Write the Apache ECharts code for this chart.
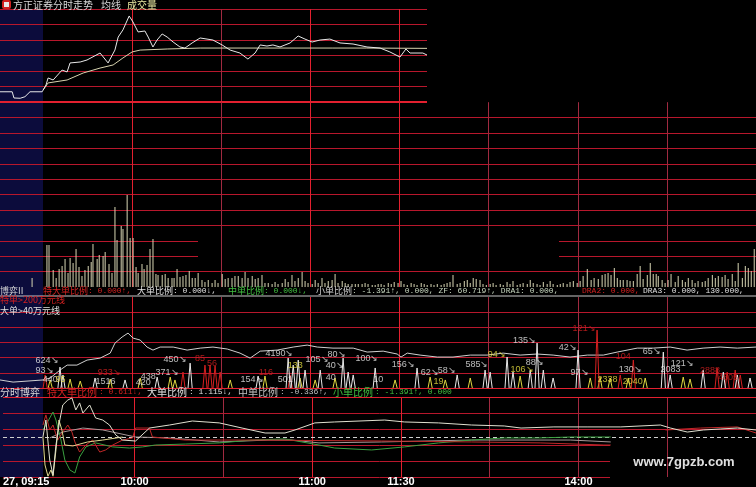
<!DOCTYPE html>
<html><head><meta charset="utf-8">
<script src="https://cdn.jsdelivr.net/npm/echarts@6/dist/echarts.min.js"></script>
<style>html,body{margin:0;padding:0;background:#000}#c{width:756px;height:487px}</style>
</head><body><div id="c"></div>
<script>
// ---- data (x = minutes after 09:30, negative = call auction) ----
const price = [[-14.5,0.66],[-10.4,0.66],[-9.8,0.26],[-7.7,0.24],[-6.1,0.34],[-4.4,0.66],[-0.3,0.66],[0,0.66],[1.0,1.10],[1.7,1.55],[3.4,1.42],[6.4,2.06],[8.1,1.94],[9.1,2.52],[12.5,2.58],[14.8,2.71],[19.2,3.16],[21.9,2.52],[24.2,3.35],[25.3,4.19],[26.9,4.65],[29.0,5.55],[30.3,5.16],[32.0,4.52],[34.3,4.58],[35.4,4.19],[37.0,3.55],[38.4,4.0],[40.1,4.39],[41.8,4.19],[43.8,3.87],[46.1,3.55],[47.8,3.48],[50.2,3.81],[52.9,4.13],[57.2,4.0],[60.3,3.68],[63.0,3.35],[66.3,3.16],[69.0,2.77],[71.4,3.16],[73.1,3.68],[75.4,3.61],[77.4,3.68],[79.8,3.55],[83.2,3.81],[85.9,4.26],[88.2,4.06],[90.6,3.87],[93.3,4.0],[96.6,4.06],[100.0,3.81],[104.4,3.74],[109.1,3.55],[113.5,3.48],[116.8,3.23],[120.2,2.90],[122.2,3.42],[123.6,3.16],[127.9,3.16],[129.3,3.03]];
const avgPrice = [[0,0.77],[1.7,1.23],[8.1,1.42],[13.5,1.87],[19.2,2.19],[23.6,2.39],[26.9,2.84],[30,3.23],[32.7,3.35],[41.8,3.42],[52.9,3.48],[75.4,3.48],[97.6,3.48],[109,3.48],[129.3,3.46]];
const volume = [[-3.7,9],[1.3,42],[2.0,42],[3.4,17],[4.4,9],[5.4,18],[6.4,21],[7.4,28],[8.4,14],[9.1,29],[10.1,24],[11.1,38],[12.1,20],[13.1,11],[14.1,17],[15.2,21],[16.2,25],[16.8,43],[18.2,28],[18.9,32],[20.2,31],[20.9,35],[22.2,23],[23.2,14],[24.2,80],[24.9,47],[26.3,61],[26.9,58],[28.3,92],[29.3,49],[30.3,49],[31.3,20],[32.0,14],[33.3,23],[34.0,18],[35.0,22],[36.0,38],[37.0,48],[38.0,13],[38.7,12],[40.1,12],[41.1,13],[42.1,9],[43.4,9],[44.1,9],[45.1,18],[46.1,10],[47.1,11],[48.1,12],[49.2,16],[50.2,9],[51.2,9],[52.2,14],[53.5,7],[54.5,5],[55.6,7],[56.9,4],[57.9,7],[58.9,4],[60.3,13],[61.3,8],[62.3,9],[63.6,9],[64.6,11],[65.7,11],[67.0,9],[68.0,15],[69.0,9],[70.4,11],[71.4,8],[72.4,9],[73.7,12],[74.7,4],[75.8,4],[77.1,3],[78.1,5],[79.1,3],[80.5,4],[81.5,8],[82.5,5],[83.8,12],[84.8,6],[85.9,9],[87.2,15],[88.2,6],[89.2,4],[90.6,3],[91.6,7],[92.6,4],[93.9,9],[94.9,4],[96.0,6],[97.3,7],[98.3,13],[99.3,4],[100.7,6],[101.7,4],[102.7,3],[104.0,3],[105.1,3],[106.1,3],[107.4,3],[108.4,4],[109.4,3],[110.8,2],[111.8,2],[112.8,3],
[113.8,3],[114.8,2],[116.2,4],[117.2,3],[118.2,5],[119.5,4],[120.5,6],[121.5,3],[122.6,2],[123.9,4],[124.9,3],[125.9,2],[127.3,4],[128.3,3],[129.3,2],[130.6,3],[131.6,2],[132.7,3],[134.0,2],[135.0,3],[136.0,4],[137.0,5],[138.0,12],[139.4,3],[140.4,4],[141.8,6],[142.8,7],[143.8,4],[144.8,9],[145.8,8],[147.1,7],[148.1,3],[149.2,2],[150.5,3],[151.5,4],[152.5,2],[153.9,3],[154.9,2],[156.2,5],[157.2,3],[158.2,6],[159.6,2],[160.6,3],[161.6,4],[163.0,3],[164.0,7],[165.0,4],[166.3,3],[167.3,2],[168.4,5],[169.7,3],[170.7,6],[171.7,3],[173.1,2],[174.1,3],[175.1,4],[176.4,3],[177.4,5],[178.5,6],[179.8,4],[180.8,6],[181.8,11],[183.2,18],[184.5,7],[185.5,9],[186.9,8],[188.2,12],[189.2,13],[190.2,14],[191.2,12],[192.3,19],[193.3,9],[194.3,7],[195.3,7],[196.6,7],[197.6,6],[198.7,6],[200.0,13],[201.0,21],[202.0,8],[203.4,12],[204.4,24],[205.4,13],[206.4,13],[207.1,11],[208.4,7],[209.4,4],[210.4,7],[211.4,13],[212.8,5],[213.8,11],[215.2,7],[216.2,5],[217.2,9],[218.5,7],[219.5,4],[220.5,6],[221.9,5],[222.9,6],[223.9,9],[225.3,12],[226.3,9],[227.3,11],[228.6,10],[229.6,12],[230.6,8],[232.0,13],[233.0,6],[234.0,24],[235.4,9],[236.4,21],[237.4,19],[238.4,16],[239.4,38]];
const bigOrderLine = [[-14.5,0.53],[-10.1,0.39],[0,0.53],[2.4,0.66],[5.7,1.18],[8.1,1.51],[11.4,1.51],[14.8,1.84],[19.2,1.97],[22.6,2.3],[24.2,2.96],[26.6,3.36],[28.6,3.62],[30.3,3.29],[32.7,3.16],[35.0,2.7],[37.0,2.5],[39.4,2.7],[43.8,2.7],[48.5,2.5],[52.9,2.63],[57.2,2.7],[62.0,2.57],[66.3,2.3],[69.7,1.97],[73.1,2.43],[78.8,2.5],[84.2,2.7],[88.9,2.83],[92.3,2.7],[97.6,2.63],[104.4,2.63],[109.1,2.37],[114.5,2.43],[119.2,2.24],[120.5,2.04],[122.6,2.3],[126.9,2.17],[132.7,2.04],[138.0,2.04],[143.8,2.17],[149.5,2.17],[154.9,2.3],[160.6,2.17],[166.3,2.24],[171.7,2.17],[177.4,2.04],[183.2,2.17],[188.6,2.17],[193.3,2.37],[200.0,2.63],[205.4,2.63],[211.1,2.7],[216.8,2.5],[222.2,2.63],[227.9,2.7],[233.7,2.63],[240,2.7]];
const whiteSpikes = [[5.7,1.38],[6.7,0.86],[17.5,0.66],[27.6,0.53],[38.4,0.72],[49.5,1.64],[72.4,0.79],[82.5,1.97],[84.2,1.51],[85.9,1.84],[88.2,1.18],[93.3,1.18],[101.0,1.97],[102.7,1.05],[104.4,0.86],[111.8,1.32],[125.9,1.32],[139.4,0.86],[148.8,1.18],[150.5,1.05],[156.2,2.04],[158.2,1.05],[164.0,1.18],[166.3,2.96],[168.4,1.18],[171.7,0.66],[180.1,2.5],[208.8,2.37],[211.1,0.86],[222.2,1.18],[229.0,1.05],[233.7,0.86],[238.0,0.66]];
const redSpikes = [[0.7,0.86],[47.1,1.05],[54.5,1.51],[56.2,1.51],[57.9,1.45],[59.6,1.05],[83.2,0.86],[186.5,3.82],[194.3,0.86],[198.7,1.84],[226.9,1.32],[230.3,1.05],[233.0,1.18],[234.7,0.86]];
const yellowSpikes = [[2.4,0.53],[9.1,0.59],[12.5,0.46],[22.6,0.59],[32.7,0.66],[42.8,0.72],[44.4,0.53],[63.0,0.53],[74.7,0.79],[86.5,0.66],[91.6,0.53],[98.3,0.66],[118.5,0.53],[130.3,0.72],[135.4,0.53],[143.8,0.66],[160.6,0.79],[184.2,0.66],[187.5,0.72],[190.9,0.66],[197.0,0.66],[202.7,0.66],[215.5,0.72],[217.8,0.59]];
const whiteLabels = [[-2.7,1.78,'624↘'],[-2.7,1.18,'93↘'],[-0.3,0.53,'440'],[17.5,0.46,'1516'],[31,0.33,'420'],[32.7,0.79,'438'],[37.7,1.05,'371↘'],[40.4,1.9,'450↘'],[66.3,0.59,'154↘'],[78.8,0.59,'501'],[74.7,2.3,'4190↘'],[88.2,1.9,'105↘'],[95.6,2.24,'80↘'],[95,1.45,'40↘'],[95,0.72,'40'],[105,1.97,'100↘'],[111,0.59,'10'],[117.2,1.58,'156↘'],[127,0.99,'62↘'],[132.7,1.18,'58↘'],[142,1.58,'585↘'],[162.3,1.71,'88↘'],[158,3.16,'135↘'],[173.4,2.7,'42↘'],[177.4,0.99,'97↘'],[193.6,1.25,'130↘'],[201.7,2.43,'65↘'],[211.1,1.64,'121↘'],[207.7,1.25,'2083']];
const redLabels = [[18.2,1.05,'933↘'],[51,1.95,'85'],[55,1.6,'56'],[72.4,1.05,'116'],[178.1,3.95,'121↘'],[192.6,2.1,'104'],[221,1.18,'2888'],[227,0.72,'4805']];
const yellowLabels = [[4.0,0.53,'95'],[82.2,1.45,'133'],[131.3,0.46,'19'],[149.5,2.24,'94↘'],[157.2,1.25,'106↘'],[186.5,0.56,'2338'],[195,0.46,'2040']];
const superRatio = [[-1.0,3.25],[0,3.88],[1.3,2.94],[2.4,3.25],[4.0,2.31],[5.7,2.81],[7.4,3.25],[8.8,2.81],[9.8,2.19],[11.4,1.56],[13.5,2.0],[15.8,2.31],[18.2,1.56],[20.2,1.69],[22.6,2.0],[25.9,2.31],[29.3,2.44],[30.3,3.06],[35.0,3.06],[36.0,2.5],[47.1,2.31],[69.7,2.31],[113.5,2.25],[143.8,2.19],[167.3,2.13],[188.6,2.0],[190.9,2.0],[200,null],[209.4,2.94],[221.2,3.06],[233.7,3.13],[240,2.75]];
const bigRatio = [[-1.0,2.5],[0,3.56],[1.3,1.06],[2.4,0.13],[3.4,2.0],[4.7,3.56],[5.7,4.5],[7.4,4.81],[8.8,4.94],[10.1,4.19],[11.4,4.63],[12.5,4.0],[14.8,4.5],[16.8,3.69],[19.2,3.56],[21.5,3.25],[23.6,2.63],[25.9,2.31],[30.3,2.25],[35.0,3.06],[41.8,3.25],[49.5,3.5],[58.6,3.38],[66.3,3.06],[74.1,2.75],[80.8,2.75],[84.2,2.94],[90.9,3.38],[97.6,3.44],[114.5,3.56],[121.2,3.44],[132.7,3.38],[143.8,3.25],[154.9,3.19],[160.6,3.06],[171.7,3.13],[183.2,3.13],[194.3,3.13],[207.7,3.25],[211.1,3.06],[216.8,2.81],[222.2,2.94],[227.9,3.0],[233.7,3.06],[240,2.94]];
const midRatio = [[1.3,2.44],[5.7,2.81],[12.5,3.06],[19.2,2.94],[30.3,2.5],[41.8,2.44],[58.6,2.19],[75.4,2.31],[83.2,2.31],[92.3,2.13],[113.5,2.19],[143.8,2.31],[177.4,2.31],[190.9,2.19]];
const smallRatio = [[-1.0,2.94],[0,3.25],[2.4,4.06],[3.4,3.56],[5.1,2.31],[6.4,1.06],[8.1,0.44],[9.8,0.25],[11.4,1.25],[13.5,1.88],[16.8,2.13],[22.6,1.88],[28.3,1.81],[32.7,1.88],[37.0,2.0],[47.1,2.06],[58.6,2.13],[69.7,2.31],[80.8,2.38],[86.5,2.19],[92.3,2.0],[97.6,1.81],[110.1,1.69],[121.2,1.88],[132.7,2.13],[143.8,2.31],[154.9,2.44],[166.3,2.44],[177.4,2.5],[190.9,2.5]];
const auctionRatio = [[-1.0,2.5],[-0.3,0.75],[0.7,0.05],[1.7,0.44],[2.4,0.05],[3.4,1.69],[4.4,3.56],[5.4,2.94],[6.4,2.0],[9.1,1.94],[14.1,2.19],[19.2,2.31],[25.9,2.5]];
const timeGrid = [30,60,90,120,150,180,210];
const tickPos = [-14.5,30,90,120,180];
const tickText = ['27, 09:15','10:00','11:00','11:30','14:00'];

// ---- chart ----
const RED='#b8172c', RED2='#e3202f', DIM='#a02a40';
const bright=[30,90,120];
const chart = echarts.init(document.getElementById('c'));
function spikeData(list){const out=[];list.forEach(([m,v])=>{out.push([m-0.7,0],[m,v],[m+0.7,0],[m+0.75,null]);});return out;}
function vLines(gi,marks,extra){
  return {type:'line',xAxisIndex:gi,yAxisIndex:gi,data:[],z:1,silent:true,
    markLine:{silent:true,symbol:['none','none'],label:{show:false},animation:false,
      data:marks.map(v=>({xAxis:v,lineStyle:{color:bright.includes(v)?RED2:DIM,width:1,type:'solid'}})).concat(extra||[])}};
}
const grids=[{left:0,top:9,width:427,height:93},{left:0,top:102.2,width:756,height:184.8},{left:0,top:297,width:756,height:91},{left:0,top:397,width:756,height:80}];
const yMax=[6,184.8,6,5], yInt=[1,15.4,1,1];
const xAxes=grids.map((g,i)=>({gridIndex:i,type:'value',min:-14.5,max:i===0?129.3:240,
  axisLine:{show:false},axisTick:{show:false},splitLine:{show:false},
  axisLabel:i===3?{show:true,customValues:tickPos,formatter:v=>{const k=tickPos.findIndex(t=>Math.abs(t-v)<0.01);return k>=0?tickText[k]:'';},
    color:'#ffffff',fontSize:11,fontWeight:'bold',fontFamily:'Liberation Sans',margin:-1,alignMinLabel:'left',showMinLabel:true}:{show:false}}));
const yAxes=grids.map((g,i)=>({gridIndex:i,type:'value',min:0,max:yMax[i],interval:yInt[i],
  axisLine:{show:false},axisTick:{show:false},axisLabel:{show:false},
  splitLine:{show:true,showMinLine:i!==1,showMaxLine:i!==2,lineStyle:{color:RED,width:1}}}));
const lbl=(list,color)=>({type:'scatter',xAxisIndex:2,yAxisIndex:2,z:6,symbolSize:1,itemStyle:{color:'rgba(0,0,0,0)'},
  data:list,label:{show:true,position:'right',distance:0,formatter:p=>p.data[2],color:color,fontSize:9,fontFamily:'Liberation Sans'}});
const ln=(gi,data,color,z)=>({type:'line',xAxisIndex:gi,yAxisIndex:gi,data:data,showSymbol:false,symbol:'none',z:z||5,
  lineStyle:{color:color,width:1},connectNulls:false,animation:false});
const T=(text,x,y,fill,size,fam)=>({type:'text',z:8,style:{text:text,x:x,y:y,fill:fill,font:(size||9)+'px '+(fam||'"Noto Sans CJK SC"'),verticalAlign:'middle'}});
const CJK='"Noto Sans CJK SC"', MONO='"Liberation Mono"';
const option={
  backgroundColor:'#000000',animation:false,
  grid:grids,xAxis:xAxes,yAxis:yAxes,
  graphic:[
    {type:'rect',z:-1,shape:{x:0,y:9,width:43,height:468},style:{fill:'#0c0c3c'}},
    {type:'rect',z:3,shape:{x:427,y:0,width:329,height:113},style:{fill:'#000'}},
    {type:'rect',z:3,shape:{x:198,y:234,width:361,height:29},style:{fill:'#000'}},
    {type:'rect',z:3,shape:{x:610,y:440,width:146,height:47},style:{fill:'#000'}},
    {type:'line',z:4,shape:{x1:0,y1:296,x2:756,y2:296},style:{stroke:'#c8c8c8',lineWidth:1}},
    {type:'rect',z:8,shape:{x:3,y:1,width:7,height:7,r:1},style:{fill:'#e8e8e8',stroke:'#d02020',lineWidth:2}},
    T('方正证券分时走势',13,5,'#d8d8d8',10,CJK),T('均线',101,5,'#d8d8d8',10,CJK),T('成交量',127,5,'#e8e8a0',10,CJK),
    T('博弈II',0,291,'#d8d8d8',9,CJK),
    T('特大单比例',43,291,'#d42020',9,CJK),T(': 0.000↑,',88,291,'#d42020',8,MONO),
    T('大单比例',137,291,'#e0e0e0',9,CJK),T(': 0.000↓,',173,291,'#e0e0e0',8,MONO),
    T('中单比例',228,291,'#40c040',9,CJK),T(': 0.000↓,',264,291,'#40c040',8,MONO),
    T('小单比例',316,291,'#d0d0d0',9,CJK),T(': -1.391↑, 0.000, ZF: 60.719↑, DRA1: 0.000,',352,291,'#c8d8c0',8,MONO),
    T('DRA2: 0.000,',582,291,'#d42020',8,MONO),T('DRA3: 0.000, 130.000,',643,291,'#e0e0e0',8,MONO),
    T('特单>200万元线',0,300,'#d42020',9,CJK),T('大单>40万元线',0,311,'#e0e0e0',9,CJK),
    T('分时博弈',0,392,'#d8d8d8',10,CJK),
    T('特大单比例',47,392,'#d42020',10,CJK),T(': 0.611↓,',99,392,'#d42020',8,MONO),
    T('大单比例',147,392,'#e0e0e0',10,CJK),T(': 1.115↓,',189,392,'#e0e0e0',8,MONO),
    T('中单比例',238,392,'#c0c0c0',10,CJK),T(': -0.336↑,',280,392,'#c0c0c0',8,MONO),
    T('小单比例',333,392,'#40c040',10,CJK),T(': -1.391↑, 0.000',375,392,'#40c040',8,MONO),
    {type:'text',z:8,style:{text:'www.7gpzb.com',x:684,y:462,fill:'#e0e0e0',font:'bold 13px "Liberation Sans"',align:'center',verticalAlign:'middle'}}
  ],
  series:[
    vLines(0,[30,60,90,120],[{yAxis:0,lineStyle:{color:RED2,width:2,type:'solid'}}]),
    vLines(1,timeGrid),
    vLines(2,timeGrid,[{yAxis:0,lineStyle:{color:RED2,width:1,type:'solid'}}]),
    vLines(3,timeGrid,[{yAxis:2.5,lineStyle:{color:'#d0d0d0',width:1,type:[4,3]}},{yAxis:5,lineStyle:{color:RED2,width:1,type:'solid'}}]),
    ln(0,avgPrice,'#d8d4b0'),
    ln(0,price,'#e8e8e8',6),
    {type:'bar',xAxisIndex:1,yAxisIndex:1,data:volume,barWidth:1,itemStyle:{color:'#d8d6b4'},z:5,animation:false},
    ln(2,bigOrderLine,'#d0d0d0'),
    ln(2,spikeData(yellowSpikes),'#e0d840'),
    ln(2,spikeData(redSpikes),'#d42020'),
    ln(2,spikeData(whiteSpikes),'#e8e8e8'),
    lbl(whiteLabels,'#e8e8e8'),lbl(redLabels,'#d42020'),lbl(yellowLabels,'#e8e040'),
    ln(3,midRatio,'#a89898'),
    ln(3,smallRatio,'#3aa040'),
    ln(3,superRatio,'#c02828'),
    ln(3,auctionRatio,'#e0d890'),
    ln(3,bigRatio,'#e0e0d0',6)
  ]
};
chart.setOption(option);
</script></body></html>
